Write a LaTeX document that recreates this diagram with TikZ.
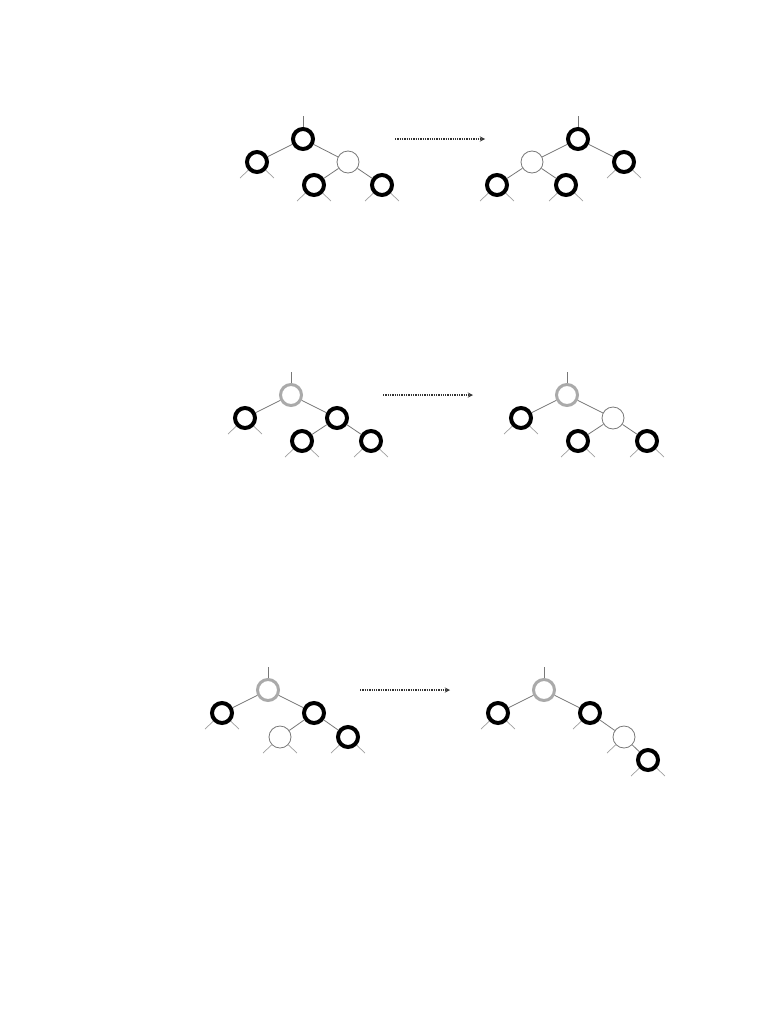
\documentclass[tikz,border=0pt]{standalone}
\usepackage{tikz}
\usetikzlibrary{positioning}
\definecolor{edgegray}{RGB}{120,120,120}
\definecolor{rootgray}{RGB}{170,170,170}
\tikzstyle{blk} = [draw=black, circle, line width=4pt, minimum size=20pt, inner sep=0pt]
\tikzstyle{wht} = [draw=edgegray, circle, line width=0.8pt, minimum size=22pt, inner sep=0pt]
\tikzstyle{gry} = [draw=rootgray, circle, line width=3pt, minimum size=21pt, inner sep=0pt]
\tikzstyle{link} = [draw=edgegray, line width=0.8pt]
\tikzstyle{stub} = [draw=edgegray!70, line width=0.7pt]
\tikzstyle{rot} = [draw=black!80, line width=1.3pt, densely dotted, ->]
\begin{document}
\begin{tikzpicture}[x=1pt, y=-1pt, on grid, >=stealth]
	\useasboundingbox (0,0) rectangle (782,1012);

	% first rotation
	\node [blk] (a1) at (303,139) {};
	\node [blk, below left=23pt and 46pt of a1] (a2) {};
	\node [wht, below right=23pt and 45pt of a1] (a3) {};
	\node [blk, below left=23pt and 34pt of a3] (a4) {};
	\node [blk, below right=23pt and 34pt of a3] (a5) {};
	\coordinate (ta) at (303,116);
	\draw [link] (ta) -- (a1);
	\draw [link] (a1) -- (a2);
	\draw [link] (a1) -- (a3);
	\draw [link] (a3) -- (a4);
	\draw [link] (a3) -- (a5);
	\draw [stub] (a2) -- ++(-17,16);
	\draw [stub] (a2) -- ++(17,16);
	\draw [stub] (a4) -- ++(-17,16);
	\draw [stub] (a4) -- ++(17,16);
	\draw [stub] (a5) -- ++(-17,16);
	\draw [stub] (a5) -- ++(17,16);

	\coordinate (p1) at (395,139);
	\coordinate (q1) at (485,139);
	\draw [rot] (p1) -- (q1);

	\node [blk] (b1) at (578,139) {};
	\node [wht, below left=23pt and 46pt of b1] (b2) {};
	\node [blk, below right=23pt and 46pt of b1] (b3) {};
	\node [blk, below left=23pt and 35pt of b2] (b4) {};
	\node [blk, below right=23pt and 34pt of b2] (b5) {};
	\coordinate (tb) at (578,116);
	\draw [link] (tb) -- (b1);
	\draw [link] (b1) -- (b2);
	\draw [link] (b1) -- (b3);
	\draw [link] (b2) -- (b4);
	\draw [link] (b2) -- (b5);
	\draw [stub] (b3) -- ++(-17,16);
	\draw [stub] (b3) -- ++(17,16);
	\draw [stub] (b4) -- ++(-17,16);
	\draw [stub] (b4) -- ++(17,16);
	\draw [stub] (b5) -- ++(-17,16);
	\draw [stub] (b5) -- ++(17,16);

	% second rotation
	\node [gry] (c1) at (291,395) {};
	\node [blk, below left=23pt and 46pt of c1] (c2) {};
	\node [blk, below right=23pt and 46pt of c1] (c3) {};
	\node [blk, below left=23pt and 35pt of c3] (c4) {};
	\node [blk, below right=23pt and 34pt of c3] (c5) {};
	\coordinate (tc) at (291,372);
	\draw [link] (tc) -- (c1);
	\draw [link] (c1) -- (c2);
	\draw [link] (c1) -- (c3);
	\draw [link] (c3) -- (c4);
	\draw [link] (c3) -- (c5);
	\draw [stub] (c2) -- ++(-17,16);
	\draw [stub] (c2) -- ++(17,16);
	\draw [stub] (c4) -- ++(-17,16);
	\draw [stub] (c4) -- ++(17,16);
	\draw [stub] (c5) -- ++(-17,16);
	\draw [stub] (c5) -- ++(17,16);

	\coordinate (p2) at (383,395);
	\coordinate (q2) at (473,395);
	\draw [rot] (p2) -- (q2);

	\node [gry] (d1) at (567,395) {};
	\node [blk, below left=23pt and 46pt of d1] (d2) {};
	\node [wht, below right=23pt and 46pt of d1] (d3) {};
	\node [blk, below left=23pt and 35pt of d3] (d4) {};
	\node [blk, below right=23pt and 34pt of d3] (d5) {};
	\coordinate (td) at (567,372);
	\draw [link] (td) -- (d1);
	\draw [link] (d1) -- (d2);
	\draw [link] (d1) -- (d3);
	\draw [link] (d3) -- (d4);
	\draw [link] (d3) -- (d5);
	\draw [stub] (d2) -- ++(-17,16);
	\draw [stub] (d2) -- ++(17,16);
	\draw [stub] (d4) -- ++(-17,16);
	\draw [stub] (d4) -- ++(17,16);
	\draw [stub] (d5) -- ++(-17,16);
	\draw [stub] (d5) -- ++(17,16);

	% third rotation
	\node [gry] (e1) at (268,690) {};
	\node [blk, below left=23pt and 46pt of e1] (e2) {};
	\node [blk, below right=23pt and 46pt of e1] (e3) {};
	\node [wht, below left=24pt and 34pt of e3] (e4) {};
	\node [blk, below right=24pt and 34pt of e3] (e5) {};
	\coordinate (te) at (268,667);
	\draw [link] (te) -- (e1);
	\draw [link] (e1) -- (e2);
	\draw [link] (e1) -- (e3);
	\draw [link] (e3) -- (e4);
	\draw [link] (e3) -- (e5);
	\draw [stub] (e2) -- ++(-17,16);
	\draw [stub] (e2) -- ++(17,16);
	\draw [stub] (e4) -- ++(-17,16);
	\draw [stub] (e4) -- ++(17,16);
	\draw [stub] (e5) -- ++(-17,16);
	\draw [stub] (e5) -- ++(17,16);

	\coordinate (p3) at (360,690);
	\coordinate (q3) at (450,690);
	\draw [rot] (p3) -- (q3);

	\node [gry] (f1) at (544,690) {};
	\node [blk, below left=23pt and 46pt of f1] (f2) {};
	\node [blk, below right=23pt and 46pt of f1] (f3) {};
	\node [wht, below right=24pt and 34pt of f3] (f4) {};
	\node [blk, below right=23pt and 24pt of f4] (f5) {};
	\coordinate (tf) at (544,667);
	\draw [link] (tf) -- (f1);
	\draw [link] (f1) -- (f2);
	\draw [link] (f1) -- (f3);
	\draw [link] (f3) -- (f4);
	\draw [link] (f4) -- (f5);
	\draw [stub] (f2) -- ++(-17,16);
	\draw [stub] (f2) -- ++(17,16);
	\draw [stub] (f3) -- ++(-17,16);
	\draw [stub] (f4) -- ++(-17,16);
	\draw [stub] (f5) -- ++(-17,16);
	\draw [stub] (f5) -- ++(17,16);
\end{tikzpicture}
\end{document}
